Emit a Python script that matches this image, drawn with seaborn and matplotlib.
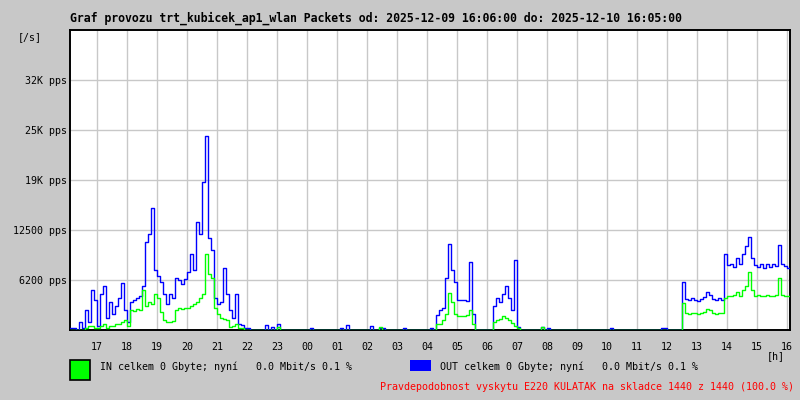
import numpy as np
import pandas as pd
import matplotlib
matplotlib.use("Agg")
import matplotlib.pyplot as plt
import seaborn as sns

# --- data (pps, krok 6 minut od 16:06) ---
title = "Graf provozu trt_kubicek_ap1_wlan Packets od: 2025-12-09 16:06:00 do: 2025-12-10 16:05:00"
step_min = 6

out_pps = [
    250, 250, 0, 1000, 250, 2500, 1000, 5000, 3750, 500,
    4500, 5500, 1500, 3500, 2000, 3000, 4000, 5900, 2500, 1000,
    3500, 3700, 4000, 4200, 5500, 11000, 12000, 15200, 7500, 6800,
    6000, 4500, 3200, 4500, 4000, 6500, 6200, 5800, 6400, 7200,
    9500, 7500, 13500, 12000, 18500, 24200, 11500, 10000, 4000, 3200,
    3500, 7800, 4500, 2500, 1500, 4500, 800, 600, 300, 250,
    0, 0, 0, 0, 0, 600, 0, 400, 0, 700,
    0, 0, 0, 0, 0, 0, 0, 0, 0, 0,
    200, 0, 0, 0, 0, 0, 0, 0, 0, 0,
    300, 0, 600, 0, 0, 0, 0, 0, 0, 0,
    500, 0, 0, 300, 300, 0, 0, 0, 0, 0,
    0, 300, 0, 0, 0, 0, 0, 0, 0, 0,
    300, 0, 1900, 2500, 2800, 6500, 10800, 7500, 6000, 3700,
    3800, 3700, 3600, 8500, 2000, 0, 0, 0, 0, 0,
    0, 3000, 4000, 3500, 4500, 5500, 4000, 2500, 8800, 400,
    0, 0, 0, 0, 0, 0, 0, 400, 0, 200,
    0, 0, 0, 0, 0, 0, 0, 0, 0, 0,
    0, 0, 0, 0, 0, 0, 0, 0, 0, 0,
    200, 0, 0, 0, 0, 0, 0, 0, 0, 0,
    0, 0, 0, 0, 0, 0, 0, 300, 200, 0,
    0, 0, 0, 0, 6000, 3900, 3700, 4000, 3800, 3600,
    3900, 4100, 4700, 4400, 3900, 3700, 4000, 3800, 9500, 8100,
    8300, 7900, 9000, 8300, 9500, 10500, 11600, 9000, 8100, 7900,
    8300, 7800, 8200, 7900, 8300, 8000, 10600, 8300, 8000, 7800,
]

in_pps = [
    0, 0, 0, 0, 0, 250, 500, 500, 250, 250,
    500, 750, 250, 500, 500, 750, 750, 1000, 1250, 500,
    2500, 2400, 2600, 2500, 5000, 3000, 3500, 3200, 4500, 4000,
    2200, 1300, 1000, 1000, 1100, 2500, 2700, 2600, 2800, 2700,
    3000, 3200, 3500, 4000, 4500, 9500, 7000, 6500, 2800, 2000,
    1500, 1400, 1200, 400, 500, 800, 300, 200, 0, 0,
    0, 0, 0, 0, 0, 0, 0, 0, 0, 400,
    0, 0, 0, 0, 0, 0, 0, 0, 0, 0,
    0, 0, 0, 0, 0, 0, 0, 0, 0, 0,
    0, 0, 0, 0, 0, 0, 0, 0, 0, 0,
    0, 0, 0, 400, 0, 0, 0, 0, 0, 0,
    0, 0, 0, 0, 0, 0, 0, 0, 0, 0,
    0, 0, 700, 800, 1200, 2000, 4600, 3500, 2000, 1800,
    1800, 1800, 1900, 2500, 700, 0, 0, 0, 0, 0,
    0, 1000, 1200, 1400, 1800, 1500, 1200, 900, 500, 200,
    0, 0, 0, 0, 0, 0, 0, 400, 0, 0,
    0, 0, 0, 0, 0, 0, 0, 0, 0, 0,
    0, 0, 0, 0, 0, 0, 0, 0, 0, 0,
    0, 0, 0, 0, 0, 0, 0, 0, 0, 0,
    0, 0, 0, 0, 0, 0, 0, 0, 0, 0,
    0, 0, 0, 0, 3400, 2100, 2000, 2100, 2100, 2000,
    2100, 2200, 2600, 2500, 2100, 2000, 2100, 2100, 4000, 4300,
    4200, 4400, 4800, 4300, 5000, 5500, 7200, 5000, 4300, 4400,
    4200, 4300, 4400, 4200, 4300, 4400, 6500, 4400, 4300, 4200,
]

hour_labels = ["17", "18", "19", "20", "21", "22", "23", "00", "01", "02", "03", "04",
               "05", "06", "07", "08", "09", "10", "11", "12", "13", "14", "15", "16"]
first_hour_min = 54  # 17:00 je 54 minut po 16:06

y_ticks = [6250, 12500, 18750, 25000, 31250]
y_labels = ["6200 pps", "12500 pps", "19K pps", "25K pps", "32K pps"]

legend_in = "IN celkem 0 Gbyte; nyní   0.0 Mbit/s 0.1 %"
legend_out = "OUT celkem 0 Gbyte; nyní   0.0 Mbit/s 0.1 %"
footer = "Pravdepodobnost vyskytu E220 KULATAK na skladce 1440 z 1440 (100.0 %)"

# --- tabulka pro seaborn ---
minutes = np.arange(len(out_pps) + 1) * step_min
df = pd.DataFrame({
    "min": np.concatenate([minutes, minutes]),
    "pps": out_pps + [out_pps[-1]] + in_pps + [in_pps[-1]],
    "smer": ["OUT"] * len(minutes) + ["IN"] * len(minutes),
})

sns.set_style("white")
plt.rcParams["font.family"] = ["DejaVu Sans Mono"]
plt.rcParams["text.color"] = "black"

bg = "#c8c8c8"
fig = plt.figure(figsize=(8, 4), dpi=100, facecolor=bg)
ax = fig.add_axes([70 / 800, 1 - 330 / 400, 720 / 800, 300 / 400])
ax.set_facecolor("white")

sns.lineplot(data=df[df.smer == "OUT"], x="min", y="pps", color="#0000ff",
             drawstyle="steps-post", linewidth=1.0, ax=ax, zorder=3)
sns.lineplot(data=df[df.smer == "IN"], x="min", y="pps", color="#00ff00",
             drawstyle="steps-post", linewidth=1.0, ax=ax, zorder=4)

ax.set_xlim(0, 1440)
ax.set_ylim(0, 37500)
ax.set_xticks([first_hour_min + 60 * k for k in range(len(hour_labels))])
ax.set_xticklabels(hour_labels)
ax.set_yticks(y_ticks)
ax.set_yticklabels(y_labels)
ax.set_xlabel("")
ax.set_ylabel("")
ax.grid(True, color=bg, linewidth=1.0, zorder=0)
ax.set_axisbelow(True)
ax.tick_params(axis="both", length=1.5, color=bg, labelsize=7.2, labelcolor="black")
ax.tick_params(axis="x", pad=7)
ax.tick_params(axis="y", pad=0.5)
for s in ax.spines.values():
    s.set_visible(True)
    s.set_color("black")
    s.set_linewidth(1.4)

# texty
fig.text(70 / 800, 1 - 18 / 400, title, fontsize=8.3, fontweight="bold",
         color="black", va="center", ha="left")
fig.text(18 / 800, 1 - 37 / 400, "[/s]", fontsize=7.2, color="black", va="center", ha="left")
fig.text(776 / 800, 1 - 356 / 400, "[h]", fontsize=7.2, color="black", va="center", ha="center")

# legenda
fig.patches.append(plt.Rectangle((70 / 800, 1 - 380 / 400), 20 / 800, 20 / 400,
                                 transform=fig.transFigure, facecolor="#00ff00",
                                 edgecolor="black", linewidth=1.2))
fig.text(100 / 800, 1 - 367 / 400, legend_in, fontsize=7.2, color="black", va="center", ha="left")
fig.patches.append(plt.Rectangle((410 / 800, 1 - 371 / 400), 21 / 800, 11 / 400,
                                 transform=fig.transFigure, facecolor="#0000ff",
                                 edgecolor="none"))
fig.text(440 / 800, 1 - 367 / 400, legend_out, fontsize=7.2, color="black", va="center", ha="left")
fig.text(794 / 800, 1 - 387 / 400, footer, fontsize=7.2, color="#ff0000", va="center", ha="right")

fig.savefig("out.png", dpi=100, facecolor=bg)
